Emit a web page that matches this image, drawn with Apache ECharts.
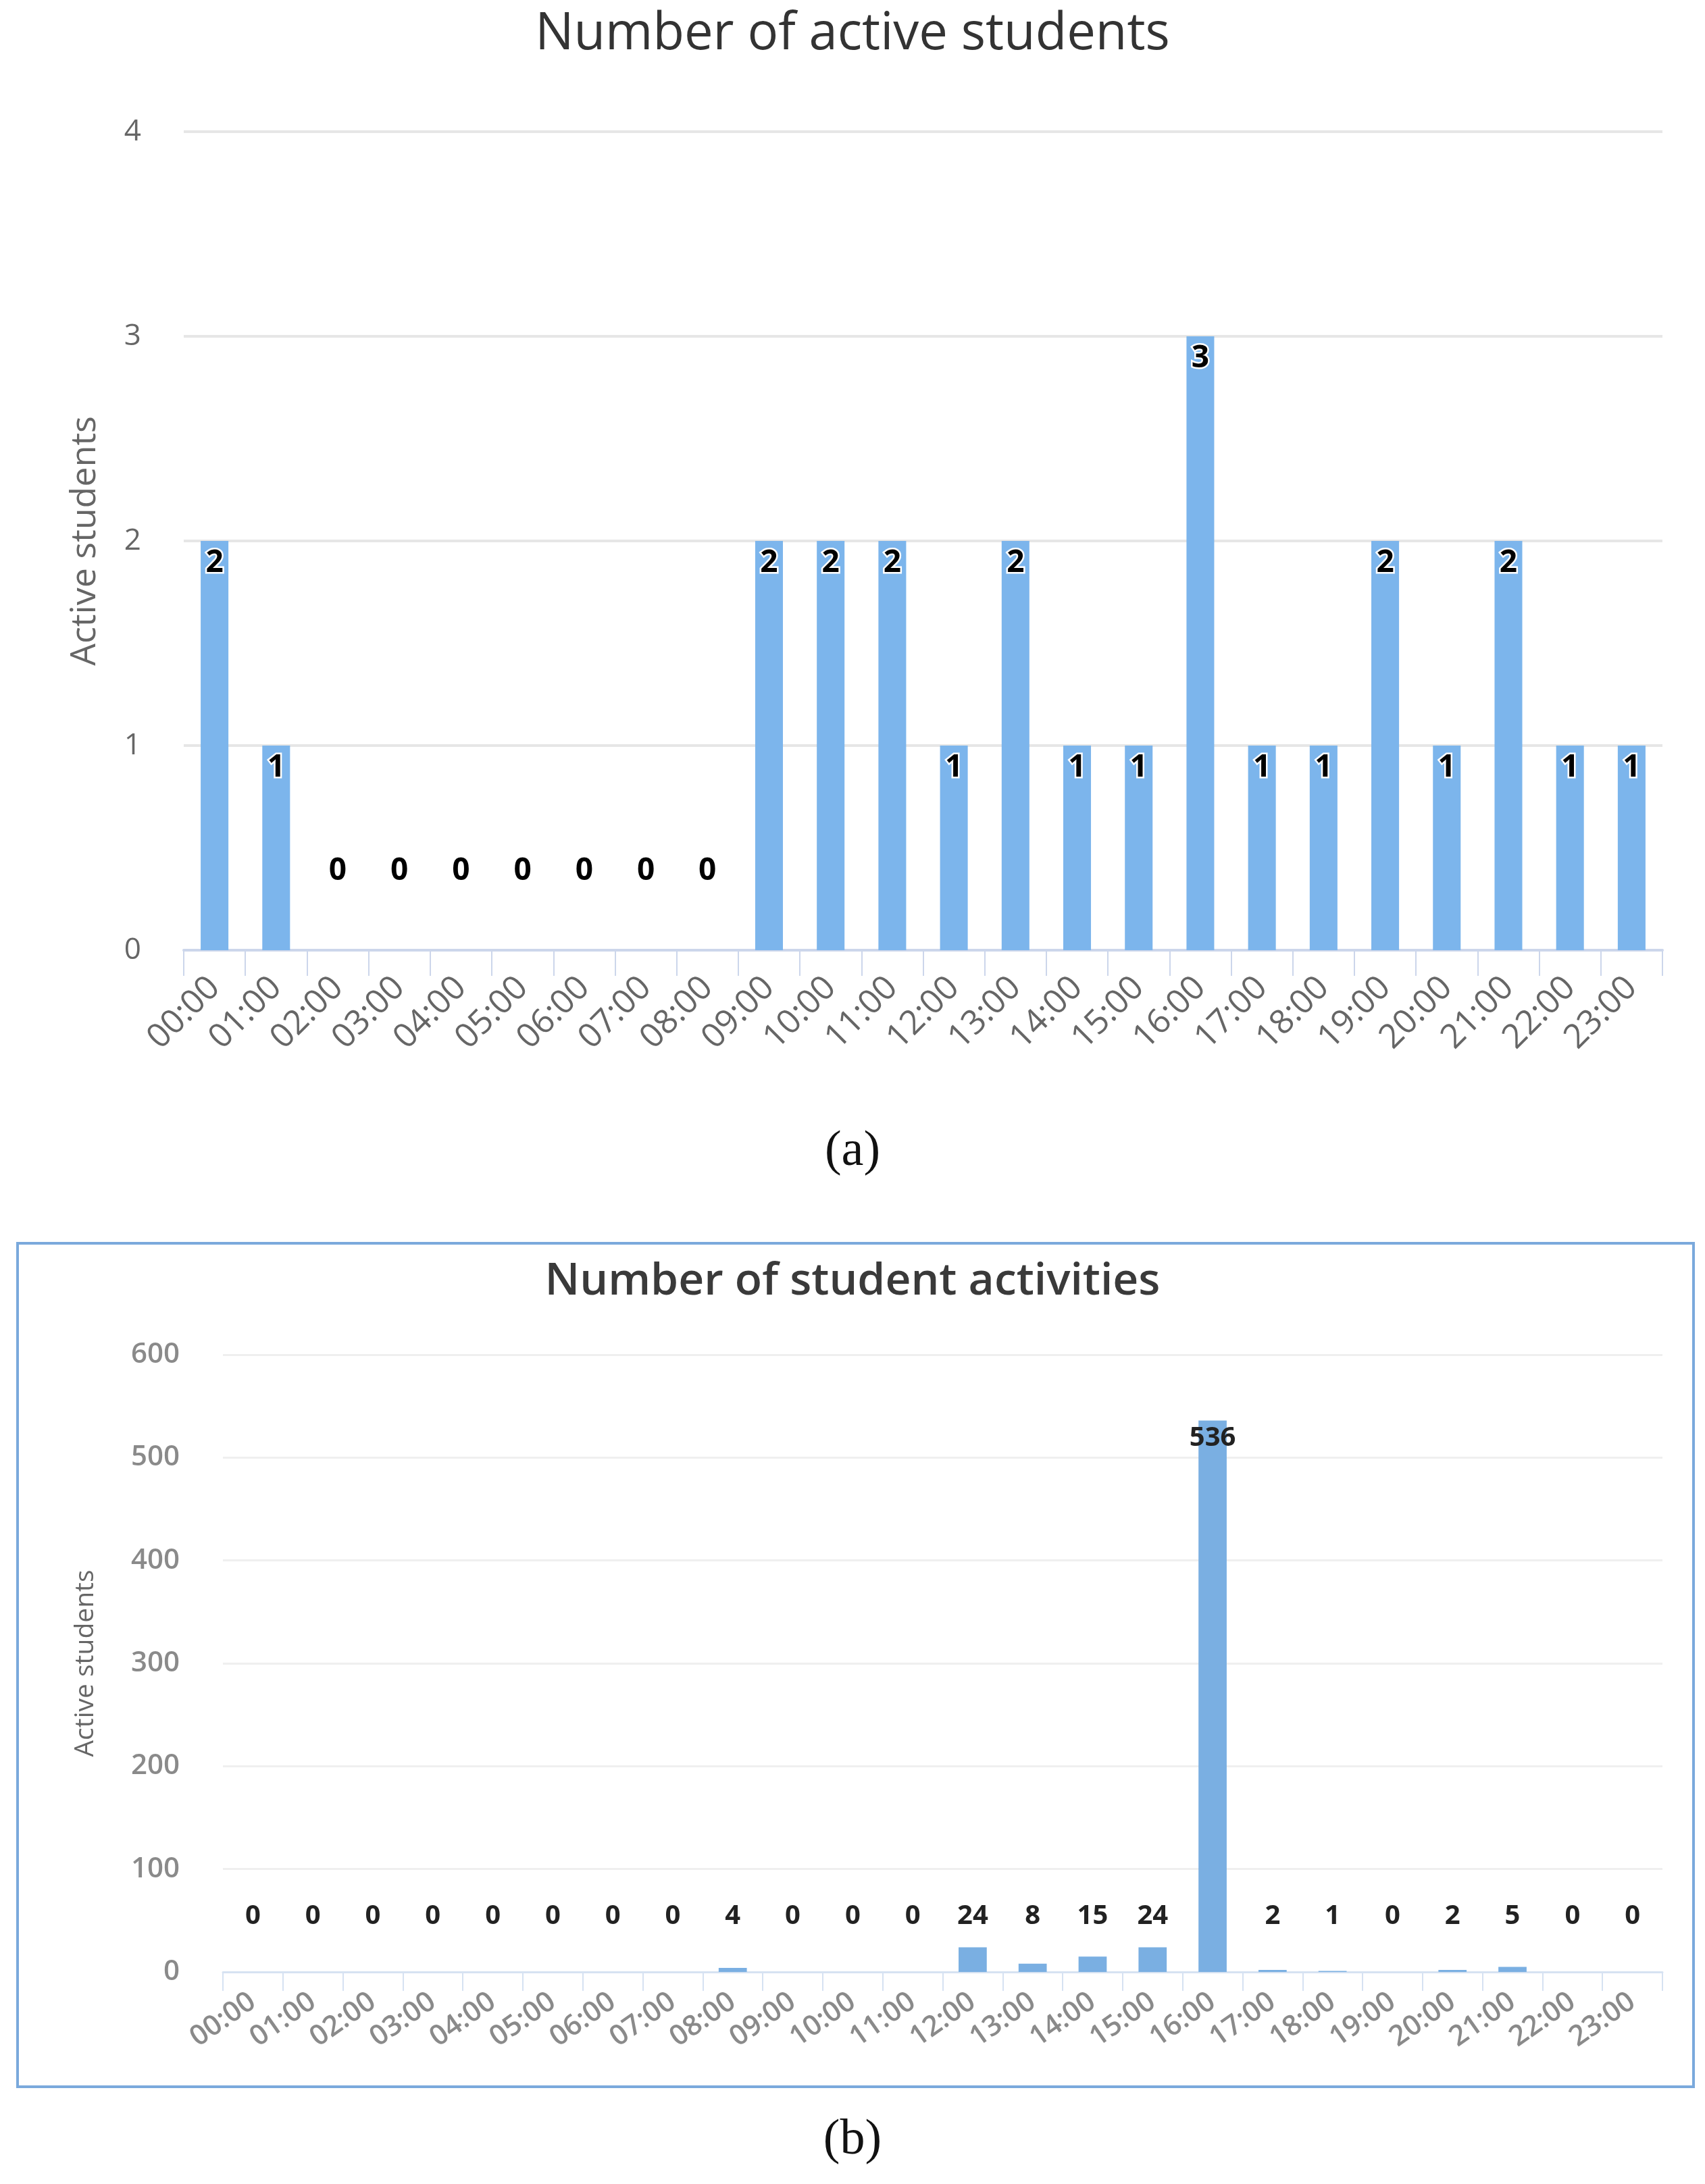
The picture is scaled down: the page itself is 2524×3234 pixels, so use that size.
<!DOCTYPE html>
<html>
<head>
<meta charset="utf-8">
<script src="https://cdn.jsdelivr.net/npm/echarts@6/dist/echarts.min.js"></script>
<style>
html,body{margin:0;padding:0;background:#fff;}
#chart{width:2524px;height:3234px;}
</style>
</head>
<body>
<div id="chart"></div>
<script>
const hours = ['00:00','01:00','02:00','03:00','04:00','05:00','06:00','07:00','08:00','09:00','10:00','11:00','12:00','13:00','14:00','15:00','16:00','17:00','18:00','19:00','20:00','21:00','22:00','23:00'];
const activeStudents = [2,1,0,0,0,0,0,0,0,2,2,2,1,2,1,1,3,1,1,2,1,2,1,1];
const studentActivities = [0,0,0,0,0,0,0,0,4,0,0,0,24,8,15,24,536,2,1,0,2,5,0,0];
const ticksA = [0,1,2,3,4];
const ticksB = [0,100,200,300,400,500,600];

const barColor = '#7cb5ec';
const maxB = Math.max(...studentActivities);

const dataA = activeStudents.map(v => ({
  value: v,
  label: v === 0 ? {position: 'insideBottom', distance: 94, textBorderWidth: 0} : {position: 'insideTop', distance: 10}
}));
const dataB = studentActivities.map(v => ({
  value: v,
  label: v === maxB ? {position: 'insideTop', distance: 6} : {position: 'insideBottom', distance: 62}
}));

const chart = echarts.init(document.getElementById('chart'));
chart.setOption({
  backgroundColor: '#ffffff',
  animation: false,
  title: [
    {text: 'Number of active students', left: 'center', top: 8,
     textStyle: {fontFamily: 'Open Sans', fontSize: 76, fontWeight: 'normal', color: '#333333'}},
    {text: 'Number of student activities', left: 'center', top: 1860,
     textStyle: {fontFamily: 'Open Sans', fontSize: 66, fontWeight: 600, color: '#3a3a3a'}},
    {text: '(a)', left: 'center', top: 1664,
     textStyle: {fontFamily: 'Liberation Serif', fontSize: 74, fontWeight: 'normal', color: '#111'}},
    {text: '(b)', left: 'center', top: 3128,
     textStyle: {fontFamily: 'Liberation Serif', fontSize: 74, fontWeight: 'normal', color: '#111'}}
  ],
  graphic: [
    {type: 'rect', shape: {x: 26, y: 1841, width: 2481, height: 1249},
     style: {fill: 'none', stroke: '#7aa9dc', lineWidth: 4}, silent: true}
  ],
  grid: [
    {left: 272, right: 63, top: 195, height: 1212},
    {left: 330, right: 63, top: 2006, height: 914}
  ],
  xAxis: [
    {type: 'category', gridIndex: 0, data: hours,
     axisLine: {lineStyle: {color: '#ccd6eb', width: 4}},
     axisTick: {show: true, length: 38, lineStyle: {color: '#ccd6eb', width: 2}},
     axisLabel: {rotate: 45, margin: 48, fontFamily: 'Open Sans', fontSize: 50, color: '#666666', interval: 0}},
    {type: 'category', gridIndex: 1, data: hours,
     axisLine: {lineStyle: {color: '#d6e2f2', width: 3}},
     axisTick: {show: true, length: 28, lineStyle: {color: '#d6e2f2', width: 2}},
     axisLabel: {rotate: 35, margin: 40, fontFamily: 'Open Sans', fontSize: 42, fontWeight: 600, color: '#8a8a8a', interval: 0}}
  ],
  yAxis: [
    {type: 'value', gridIndex: 0, min: ticksA[0], max: ticksA[ticksA.length-1], interval: 1,
     name: 'Active students', nameLocation: 'middle', nameGap: 120,
     nameTextStyle: {fontFamily: 'Open Sans', fontSize: 52, color: '#666666'},
     axisLine: {show: false}, axisTick: {show: false},
     axisLabel: {margin: 63, fontFamily: 'Open Sans', fontSize: 44, color: '#666666'},
     splitLine: {lineStyle: {color: '#e6e6e6', width: 4}}},
    {type: 'value', gridIndex: 1, min: ticksB[0], max: ticksB[ticksB.length-1], interval: 100,
     name: 'Active students', nameLocation: 'middle', nameGap: 184,
     nameTextStyle: {fontFamily: 'Open Sans', fontSize: 39, color: '#666666'},
     axisLine: {show: false}, axisTick: {show: false},
     axisLabel: {margin: 64, fontFamily: 'Open Sans', fontSize: 42, fontWeight: 600, color: '#8a8a8a'},
     splitLine: {lineStyle: {color: '#efefef', width: 3}}}
  ],
  series: [
    {type: 'bar', xAxisIndex: 0, yAxisIndex: 0, data: dataA, barWidth: '45%',
     itemStyle: {color: barColor},
     label: {show: true, fontFamily: 'Open Sans', fontSize: 46, fontWeight: 'bold', color: '#000000',
             textBorderColor: '#ffffff', textBorderWidth: 5}},
    {type: 'bar', xAxisIndex: 1, yAxisIndex: 1, data: dataB, barWidth: '47%',
     itemStyle: {color: '#7aafe2'},
     label: {show: true, fontFamily: 'Open Sans', fontSize: 40, fontWeight: 'bold', color: '#222222'}}
  ]
});
</script>
</body>
</html>
